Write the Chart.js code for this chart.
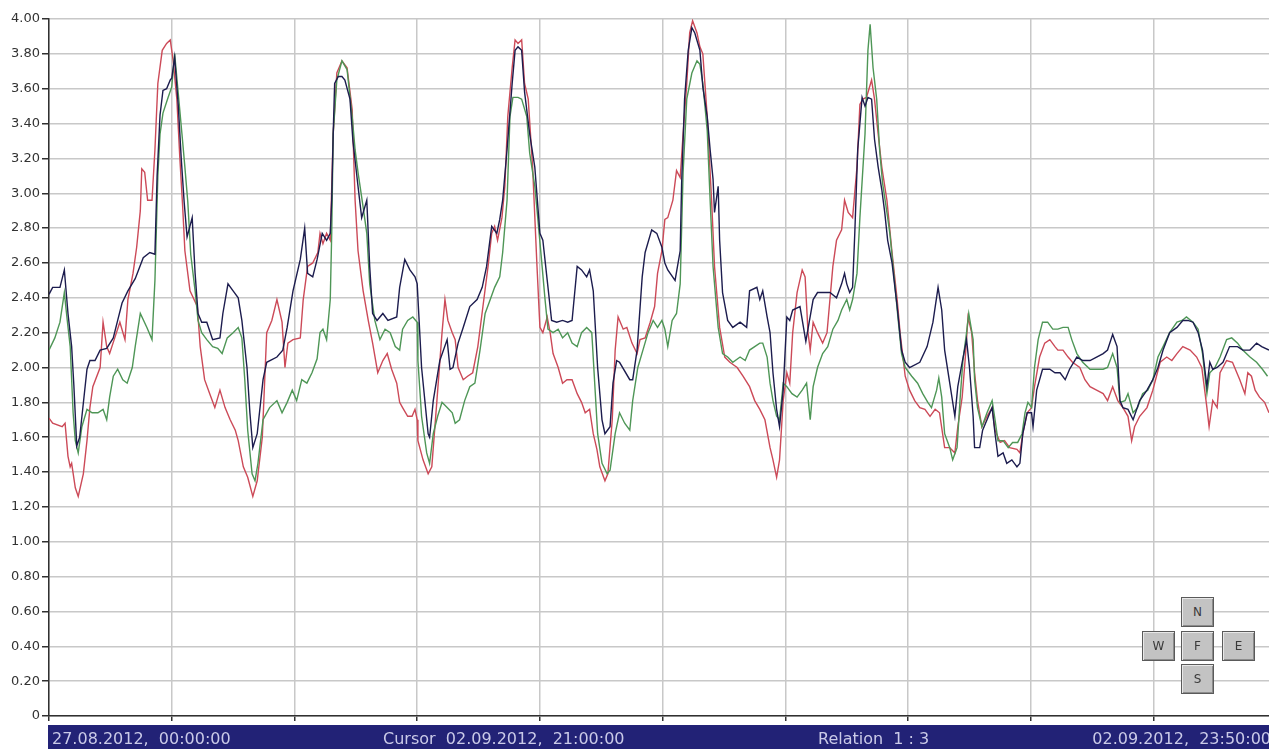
<!DOCTYPE html>
<html>
<head>
<meta charset="utf-8">
<script src="https://cdn.jsdelivr.net/npm/chart.js@4/dist/chart.umd.min.js"></script>
<style>
  html, body { margin: 0; padding: 0; background: #ffffff; overflow: hidden; }
  #wrap { position: relative; width: 1269px; height: 749px; }
  canvas { display: block; }
  .nav {
    position: absolute; box-sizing: border-box; width: 33px; height: 30px;
    background: #c3c3c3; border: 1px solid #5a5a5a;
    box-shadow: inset 1px 1px 0 #e8e8e8, inset -1px -1px 0 #8c8c8c;
    font: 12px "DejaVu Sans", sans-serif; color: #3a3a3a;
    text-align: center; line-height: 28px;
  }
</style>
</head>
<body>
<div id="wrap">
  <canvas id="trend" width="1269" height="749"></canvas>
  <div class="nav" style="left:1181px; top:597px;">N</div>
  <div class="nav" style="left:1142px; top:631px;">W</div>
  <div class="nav" style="left:1181px; top:631px;">F</div>
  <div class="nav" style="left:1222px; top:631px;">E</div>
  <div class="nav" style="left:1181px; top:664px;">S</div>
</div>
<script>
// Time axis: hours since 27.08.2012 00:00, vertical grid every 16.8 h
const gridHours = [0, 16.8, 33.6, 50.4, 67.2, 84, 100.8, 117.6, 134.4, 151.2];
const valueTicks = [0, 0.2, 0.4, 0.6, 0.8, 1, 1.2, 1.4, 1.6, 1.8, 2, 2.2, 2.4, 2.6, 2.8, 3, 3.2, 3.4, 3.6, 3.8, 4];

// Status bar captions
const startLabel = "27.08.2012,  00:00:00";
const cursorLabel = "Cursor  02.09.2012,  21:00:00";
const relationLabel = "Relation  1 : 3";
const endLabel = "02.09.2012,  23:50:00";

// [hour, value] samples for each channel
const navySeries = [[0.0,2.42],[0.5,2.46],[1.5,2.46],[2.1,2.56],[2.6,2.31],[3.1,2.12],[3.4,1.90],[3.8,1.55],[4.2,1.60],[5.2,1.99],[5.6,2.04],[6.3,2.04],[7.0,2.10],[7.9,2.11],[8.8,2.17],[9.4,2.27],[10.0,2.37],[10.8,2.44],[11.8,2.51],[12.9,2.63],[13.8,2.66],[14.5,2.65],[14.8,3.10],[15.2,3.45],[15.6,3.59],[16.1,3.60],[16.6,3.65],[16.8,3.66],[17.2,3.78],[17.7,3.50],[18.1,3.20],[18.5,2.95],[18.9,2.75],[19.6,2.86],[20.0,2.54],[20.4,2.31],[20.9,2.26],[21.6,2.26],[22.4,2.16],[23.4,2.17],[23.8,2.31],[24.5,2.48],[25.2,2.44],[25.9,2.40],[26.4,2.27],[27.1,2.00],[27.5,1.74],[27.9,1.54],[28.5,1.62],[29.3,1.93],[29.8,2.03],[31.2,2.06],[32.0,2.10],[32.6,2.23],[33.4,2.44],[34.4,2.62],[35.0,2.80],[35.4,2.54],[36.1,2.52],[36.7,2.62],[37.4,2.77],[38.0,2.73],[38.5,2.77],[38.7,2.96],[38.9,3.34],[39.1,3.63],[39.6,3.67],[40.1,3.67],[40.5,3.65],[41.2,3.54],[41.6,3.30],[42.3,3.04],[42.8,2.86],[43.5,2.96],[43.9,2.58],[44.3,2.31],[44.9,2.27],[45.7,2.31],[46.4,2.27],[47.6,2.29],[48.0,2.46],[48.7,2.62],[49.4,2.56],[50.1,2.52],[50.4,2.48],[51.0,2.00],[51.9,1.62],[52.1,1.60],[52.6,1.81],[53.5,2.04],[54.5,2.16],[54.9,1.99],[55.3,2.00],[56.0,2.14],[56.7,2.23],[57.6,2.35],[58.6,2.39],[59.3,2.46],[59.9,2.58],[60.6,2.81],[61.3,2.77],[61.7,2.85],[62.1,2.96],[62.7,3.25],[63.4,3.63],[63.8,3.82],[64.2,3.84],[64.7,3.82],[65.1,3.58],[65.8,3.34],[66.5,3.15],[67.2,2.77],[67.6,2.73],[68.2,2.50],[68.8,2.27],[69.5,2.26],[70.3,2.27],[71.0,2.26],[71.6,2.27],[72.3,2.58],[72.9,2.56],[73.6,2.52],[74.0,2.56],[74.5,2.44],[75.1,2.00],[75.7,1.70],[76.1,1.62],[76.8,1.66],[77.2,1.91],[77.7,2.04],[78.1,2.03],[79.5,1.93],[79.9,1.93],[80.5,2.10],[81.2,2.52],[81.6,2.66],[82.5,2.79],[83.2,2.77],[83.9,2.69],[84.3,2.60],[84.7,2.56],[85.7,2.50],[86.4,2.67],[86.6,3.06],[87.0,3.54],[87.5,3.82],[88.0,3.95],[88.4,3.92],[89.1,3.82],[89.5,3.61],[90.1,3.44],[90.5,3.25],[90.9,3.08],[91.1,2.89],[91.6,3.04],[91.8,2.73],[92.2,2.43],[92.9,2.27],[93.6,2.23],[94.6,2.26],[95.5,2.23],[95.9,2.44],[96.9,2.46],[97.3,2.39],[97.7,2.44],[98.3,2.29],[98.7,2.20],[99.1,1.97],[99.6,1.76],[100.0,1.66],[100.5,1.87],[101.0,2.29],[101.4,2.27],[101.8,2.33],[102.8,2.35],[103.6,2.15],[104.6,2.39],[105.2,2.43],[106.9,2.43],[107.8,2.40],[108.5,2.48],[108.9,2.54],[109.2,2.48],[109.6,2.43],[110.0,2.46],[110.3,2.77],[110.7,3.25],[111.3,3.55],[111.7,3.50],[112.1,3.55],[112.6,3.54],[113.0,3.31],[113.5,3.15],[114.0,3.02],[114.4,2.89],[114.8,2.73],[115.4,2.60],[116.1,2.35],[116.7,2.10],[117.2,2.03],[117.8,2.00],[119.2,2.03],[120.2,2.12],[121.0,2.26],[121.7,2.46],[122.2,2.33],[122.6,2.10],[123.3,1.91],[124.0,1.72],[124.4,1.89],[125.0,2.03],[125.6,2.16],[126.0,2.00],[126.5,1.72],[126.7,1.54],[127.4,1.54],[127.8,1.64],[128.4,1.70],[129.1,1.77],[129.5,1.62],[129.9,1.49],[130.6,1.51],[131.1,1.45],[131.8,1.47],[132.5,1.43],[132.9,1.45],[133.3,1.62],[133.9,1.74],[134.5,1.74],[134.7,1.66],[135.2,1.87],[136.0,1.99],[137.0,1.99],[137.7,1.97],[138.4,1.97],[139.1,1.93],[139.7,1.99],[140.7,2.06],[141.5,2.04],[142.5,2.04],[143.4,2.06],[144.3,2.08],[144.9,2.10],[145.6,2.19],[146.2,2.12],[146.6,1.81],[147.0,1.77],[147.7,1.76],[148.4,1.70],[149.3,1.81],[150.3,1.87],[151.1,1.93],[151.8,2.00],[152.5,2.10],[153.4,2.20],[154.4,2.23],[155.2,2.27],[155.9,2.27],[156.6,2.26],[157.3,2.20],[157.9,2.10],[158.5,1.89],[158.9,2.03],[159.3,1.99],[159.9,2.00],[160.7,2.03],[161.6,2.12],[162.7,2.12],[163.4,2.10],[164.4,2.10],[165.3,2.14],[166.0,2.12],[167.0,2.10]];

const redSeries = [[0.0,1.71],[0.5,1.68],[1.8,1.66],[2.2,1.68],[2.6,1.49],[2.9,1.43],[3.1,1.45],[3.6,1.31],[4.0,1.26],[4.7,1.39],[5.2,1.58],[5.6,1.77],[6.0,1.89],[7.0,2.00],[7.4,2.26],[7.9,2.12],[8.3,2.08],[9.0,2.17],[9.7,2.26],[10.4,2.16],[10.8,2.39],[11.5,2.54],[12.0,2.69],[12.5,2.90],[12.7,3.14],[13.1,3.12],[13.5,2.96],[14.1,2.96],[14.5,3.25],[14.9,3.63],[15.5,3.82],[16.1,3.86],[16.6,3.88],[17.0,3.76],[17.5,3.54],[17.9,3.21],[18.3,2.92],[18.6,2.67],[19.3,2.44],[20.3,2.35],[20.7,2.12],[21.3,1.93],[22.0,1.85],[22.7,1.77],[23.4,1.87],[24.1,1.77],[24.8,1.70],[25.5,1.64],[25.9,1.58],[26.6,1.43],[27.2,1.37],[27.9,1.26],[28.5,1.35],[29.2,1.60],[29.8,2.20],[30.5,2.27],[31.2,2.39],[31.9,2.26],[32.3,2.00],[32.7,2.14],[33.4,2.16],[34.4,2.17],[34.8,2.39],[35.4,2.58],[36.1,2.60],[36.8,2.66],[37.1,2.77],[37.5,2.71],[38.0,2.77],[38.5,2.73],[38.9,3.34],[39.4,3.69],[40.1,3.76],[40.8,3.72],[41.5,3.48],[41.9,2.96],[42.3,2.67],[43.0,2.44],[43.7,2.27],[44.3,2.14],[45.0,1.97],[45.7,2.04],[46.3,2.08],[46.9,1.99],[47.6,1.91],[48.0,1.80],[48.4,1.77],[49.1,1.72],[49.7,1.72],[50.1,1.76],[50.4,1.70],[50.5,1.58],[51.2,1.47],[51.9,1.39],[52.4,1.43],[53.1,1.81],[53.8,2.20],[54.2,2.39],[54.6,2.27],[55.2,2.20],[55.6,2.16],[56.0,2.00],[56.7,1.93],[57.3,1.95],[58.0,1.97],[58.7,2.12],[59.4,2.35],[60.1,2.58],[60.6,2.77],[61.0,2.81],[61.4,2.73],[62.0,2.86],[62.4,3.04],[62.8,3.44],[63.4,3.72],[63.8,3.88],[64.2,3.86],[64.7,3.88],[65.1,3.63],[65.6,3.54],[66.2,3.15],[66.8,2.58],[67.2,2.23],[67.6,2.20],[68.2,2.29],[68.6,2.20],[69.0,2.08],[69.7,2.00],[70.3,1.91],[70.9,1.93],[71.6,1.93],[72.3,1.85],[72.9,1.80],[73.4,1.74],[74.0,1.76],[74.5,1.62],[75.0,1.53],[75.4,1.43],[76.1,1.35],[76.5,1.39],[77.1,1.70],[77.5,2.10],[77.9,2.29],[78.6,2.22],[79.1,2.23],[79.8,2.14],[80.5,2.08],[80.9,2.16],[81.6,2.17],[82.3,2.26],[82.9,2.35],[83.3,2.54],[83.9,2.67],[84.3,2.85],[84.7,2.86],[85.4,2.96],[85.9,3.13],[86.4,3.09],[86.8,3.34],[87.3,3.63],[87.7,3.92],[88.1,3.99],[88.7,3.92],[89.1,3.84],[89.5,3.80],[90.1,3.44],[90.7,2.96],[91.1,2.58],[91.8,2.23],[92.5,2.06],[93.2,2.03],[94.2,2.00],[95.0,1.95],[95.9,1.89],[96.6,1.81],[97.3,1.76],[98.0,1.70],[98.7,1.54],[99.1,1.47],[99.6,1.37],[100.0,1.47],[100.5,1.81],[101.0,1.97],[101.4,1.91],[101.8,2.20],[102.4,2.43],[103.1,2.56],[103.5,2.52],[103.9,2.20],[104.2,2.10],[104.6,2.26],[105.2,2.20],[105.9,2.14],[106.5,2.20],[106.9,2.39],[107.3,2.58],[107.8,2.73],[108.5,2.79],[108.9,2.96],[109.4,2.89],[110.0,2.86],[110.6,3.15],[111.0,3.51],[111.4,3.54],[111.9,3.55],[112.6,3.65],[113.0,3.54],[113.5,3.34],[114.0,3.15],[114.7,2.96],[115.4,2.66],[116.1,2.39],[116.5,2.20],[117.2,1.95],[117.8,1.87],[118.5,1.81],[119.2,1.77],[119.9,1.76],[120.6,1.72],[121.3,1.76],[121.9,1.74],[122.6,1.54],[123.3,1.54],[124.0,1.51],[124.4,1.66],[125.0,1.83],[125.4,2.04],[125.8,2.29],[126.3,2.20],[126.7,1.97],[127.1,1.81],[127.7,1.66],[128.4,1.72],[129.1,1.77],[129.5,1.64],[130.2,1.57],[130.8,1.58],[131.5,1.54],[132.5,1.53],[132.9,1.51],[133.3,1.62],[133.9,1.74],[134.5,1.77],[134.9,1.89],[135.6,2.06],[136.3,2.14],[137.0,2.16],[137.7,2.12],[138.1,2.10],[138.8,2.10],[139.5,2.06],[140.1,2.03],[141.1,2.00],[141.8,1.93],[142.5,1.89],[143.4,1.87],[144.3,1.85],[144.9,1.81],[145.6,1.89],[146.3,1.81],[147.0,1.77],[147.7,1.72],[148.2,1.58],[148.6,1.66],[149.3,1.72],[150.3,1.77],[151.1,1.87],[152.1,2.03],[153.0,2.06],[153.7,2.04],[154.4,2.08],[155.2,2.12],[156.2,2.10],[157.1,2.06],[157.8,2.00],[158.5,1.77],[158.8,1.66],[159.3,1.81],[159.9,1.77],[160.3,1.97],[161.2,2.04],[162.0,2.03],[163.0,1.93],[163.7,1.85],[164.1,1.97],[164.6,1.95],[165.1,1.87],[165.7,1.83],[166.4,1.80],[167.0,1.74]];

const greenSeries = [[0.0,2.10],[0.8,2.17],[1.5,2.26],[2.1,2.43],[2.5,2.27],[2.9,2.12],[3.3,1.74],[3.6,1.58],[4.0,1.51],[4.5,1.66],[5.2,1.76],[5.9,1.74],[6.7,1.74],[7.4,1.76],[7.9,1.70],[8.3,1.83],[8.8,1.95],[9.4,1.99],[10.1,1.93],[10.7,1.91],[11.4,2.00],[11.8,2.12],[12.5,2.31],[13.4,2.23],[14.1,2.16],[14.5,2.50],[14.9,3.10],[15.2,3.34],[15.6,3.46],[16.3,3.55],[16.8,3.61],[17.2,3.80],[17.7,3.57],[18.2,3.34],[18.6,3.15],[19.0,2.95],[19.4,2.65],[20.0,2.44],[20.4,2.27],[20.9,2.20],[21.6,2.16],[22.4,2.12],[23.1,2.11],[23.7,2.08],[24.4,2.17],[25.2,2.20],[25.9,2.23],[26.4,2.17],[26.8,1.93],[27.2,1.64],[27.8,1.39],[28.2,1.35],[28.6,1.45],[29.3,1.70],[30.2,1.77],[31.2,1.81],[31.9,1.74],[32.6,1.80],[33.3,1.87],[33.9,1.81],[34.6,1.93],[35.3,1.91],[36.0,1.97],[36.7,2.05],[37.1,2.20],[37.5,2.22],[38.0,2.16],[38.5,2.39],[38.7,2.77],[38.9,3.34],[39.4,3.65],[40.1,3.76],[40.8,3.71],[41.5,3.44],[41.9,3.25],[42.3,3.12],[43.0,2.92],[43.5,2.77],[43.9,2.48],[44.6,2.27],[45.3,2.16],[46.0,2.22],[46.7,2.20],[47.4,2.12],[48.0,2.10],[48.4,2.22],[49.1,2.27],[49.8,2.29],[50.4,2.26],[50.5,2.04],[51.0,1.72],[51.7,1.51],[52.1,1.45],[52.6,1.62],[53.2,1.72],[53.8,1.80],[54.5,1.77],[55.2,1.74],[55.6,1.68],[56.2,1.70],[56.9,1.81],[57.6,1.89],[58.3,1.91],[59.0,2.10],[59.7,2.31],[60.4,2.39],[61.0,2.46],[61.7,2.52],[62.1,2.66],[62.7,2.96],[63.1,3.44],[63.5,3.55],[64.2,3.55],[64.7,3.54],[65.4,3.44],[65.8,3.23],[66.5,3.04],[66.9,2.86],[67.5,2.58],[67.9,2.39],[68.3,2.22],[69.0,2.20],[69.7,2.22],[70.3,2.17],[71.0,2.20],[71.6,2.14],[72.3,2.12],[72.9,2.20],[73.6,2.23],[74.3,2.20],[74.7,1.91],[75.1,1.62],[75.7,1.45],[76.4,1.39],[76.8,1.41],[77.5,1.62],[78.1,1.74],[78.8,1.68],[79.5,1.64],[79.9,1.81],[80.6,2.00],[81.3,2.10],[82.0,2.20],[82.7,2.27],[83.3,2.23],[83.9,2.27],[84.3,2.22],[84.7,2.12],[85.3,2.27],[85.9,2.31],[86.4,2.48],[86.8,3.12],[87.3,3.54],[88.0,3.69],[88.7,3.76],[89.1,3.74],[89.5,3.63],[90.1,3.36],[90.5,2.96],[90.9,2.58],[91.6,2.23],[92.2,2.08],[92.9,2.06],[93.6,2.03],[94.6,2.06],[95.3,2.04],[95.9,2.10],[96.6,2.12],[97.3,2.14],[97.7,2.14],[98.3,2.06],[98.7,1.91],[99.1,1.81],[99.6,1.72],[100.0,1.70],[100.5,1.91],[101.0,1.89],[101.7,1.85],[102.4,1.83],[103.1,1.87],[103.7,1.91],[104.2,1.70],[104.6,1.89],[105.2,2.00],[105.9,2.08],[106.6,2.12],[107.3,2.22],[108.0,2.27],[108.5,2.33],[109.2,2.39],[109.6,2.33],[110.0,2.39],[110.6,2.54],[111.0,2.86],[111.7,3.34],[112.1,3.82],[112.4,3.97],[112.8,3.72],[113.3,3.54],[113.7,3.25],[114.1,3.06],[114.7,2.89],[115.1,2.77],[115.5,2.60],[116.2,2.29],[116.7,2.08],[117.2,2.00],[118.1,1.95],[118.9,1.91],[119.6,1.85],[120.3,1.80],[120.8,1.77],[121.5,1.87],[121.8,1.94],[122.2,1.83],[122.6,1.62],[123.3,1.54],[123.7,1.47],[124.3,1.54],[124.7,1.81],[125.1,2.04],[125.6,2.20],[125.9,2.31],[126.5,2.16],[126.7,1.93],[127.1,1.77],[127.7,1.66],[128.4,1.74],[129.1,1.81],[129.5,1.70],[129.9,1.58],[130.6,1.58],[131.3,1.54],[131.9,1.57],[132.6,1.57],[133.2,1.62],[133.6,1.74],[134.0,1.80],[134.5,1.77],[134.9,2.00],[135.4,2.16],[136.0,2.26],[136.7,2.26],[137.4,2.22],[138.1,2.22],[138.8,2.23],[139.5,2.23],[140.0,2.16],[140.7,2.08],[141.5,2.03],[142.5,1.99],[143.4,1.99],[144.3,1.99],[144.9,2.00],[145.6,2.08],[146.2,2.00],[146.6,1.80],[147.3,1.81],[147.7,1.85],[148.4,1.74],[149.0,1.77],[149.7,1.85],[150.4,1.87],[151.1,1.93],[151.8,2.06],[152.5,2.12],[153.4,2.20],[154.4,2.26],[155.1,2.27],[155.7,2.29],[156.6,2.26],[157.3,2.22],[157.9,2.08],[158.5,1.85],[158.9,1.97],[159.6,2.00],[160.3,2.06],[161.2,2.16],[161.9,2.17],[162.7,2.14],[163.4,2.10],[164.4,2.06],[165.3,2.03],[166.1,1.99],[166.8,1.95]];

const toPoints = series => series.map(([h, v]) => ({ x: h, y: v }));

// Dark status strip under the time axis
const statusBar = {
  id: 'statusBar',
  afterDraw(chart) {
    const c = chart.ctx;
    const area = chart.chartArea;
    c.save();
    c.fillStyle = '#222276';
    c.fillRect(area.left - 1, 725, chart.width - area.left + 1, 24);
    c.fillStyle = '#cacae8';
    c.font = '16px "DejaVu Sans", sans-serif';
    c.textBaseline = 'alphabetic';
    c.textAlign = 'left';
    c.fillText(startLabel, area.left + 3, 744);
    c.fillText(cursorLabel, 383, 744);
    c.fillText(relationLabel, 818, 744);
    c.textAlign = 'right';
    c.fillText(endLabel, chart.width + 2, 744);
    c.restore();
  }
};

const gridGray = '#c8c8c8';
const axisDark = '#303030';

new Chart(document.getElementById('trend'), {
  type: 'line',
  data: {
    datasets: [
      { label: 'Channel 1', data: toPoints(navySeries), borderColor: '#1c1c4e', borderWidth: 1.4 },
      { label: 'Channel 2', data: toPoints(greenSeries), borderColor: '#4e9656', borderWidth: 1.4 },
      { label: 'Channel 3', data: toPoints(redSeries), borderColor: '#cc4a58', borderWidth: 1.4 }
    ]
  },
  options: {
    responsive: false,
    animation: false,
    devicePixelRatio: 1,
    parsing: true,
    layout: { padding: { top: 19, right: 0, bottom: 0, left: 0 } },
    elements: { point: { radius: 0 }, line: { tension: 0 } },
    plugins: { legend: { display: false }, tooltip: { enabled: false } },
    scales: {
      x: {
        type: 'linear',
        min: 0,
        max: 167,
        afterBuildTicks: s => { s.ticks = gridHours.map(v => ({ value: v })); },
        afterFit: s => { s.height = 33; },
        ticks: { autoSkip: false, maxRotation: 0, padding: 0, callback: () => '' },
        grid: { color: gridGray, lineWidth: 1.5, drawTicks: true, tickLength: 5, tickColor: axisDark, tickWidth: 1.5 },
        border: { color: axisDark, width: 1.5 }
      },
      y: {
        min: 0,
        max: 4,
        afterBuildTicks: s => { s.ticks = valueTicks.map(v => ({ value: v })); },
        afterFit: s => { s.width = 49; },
        ticks: {
          padding: 2,
          color: '#333333',
          font: { family: '"DejaVu Sans"', size: 13 },
          callback: v => (v === 0 ? '0' : Number(v).toFixed(2))
        },
        grid: { color: gridGray, lineWidth: 1.5, drawTicks: true, tickLength: 7, tickColor: axisDark, tickWidth: 1.5 },
        border: { color: axisDark, width: 1.5 }
      }
    }
  },
  plugins: [statusBar]
});
</script>
</body>
</html>
